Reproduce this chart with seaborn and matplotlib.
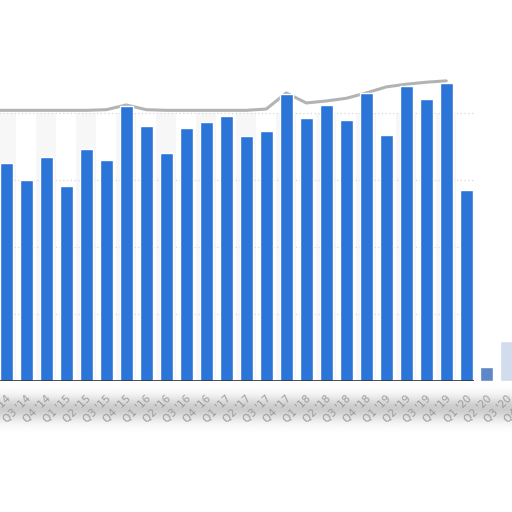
import numpy as np
import pandas as pd
import matplotlib
matplotlib.use("Agg")
import matplotlib.pyplot as plt
import matplotlib.transforms as mtransforms
import seaborn as sns

quarters = ["Q2 '14", "Q3 '14", "Q4 '14",
            "Q1 '15", "Q2 '15", "Q3 '15", "Q4 '15",
            "Q1 '16", "Q2 '16", "Q3 '16", "Q4 '16",
            "Q1 '17", "Q2 '17", "Q3 '17", "Q4 '17",
            "Q1 '18", "Q2 '18", "Q3 '18", "Q4 '18",
            "Q1 '19", "Q2 '19", "Q3 '19", "Q4 '19",
            "Q1 '20", "Q2 '20", "Q3 '20", "Q4 '20"]
values = [325, 300, 334, 291, 346, 330, 410,
          381, 340, 378, 387,
          396, 366, 373, 428,
          393, 412, 390, 430,
          367, 440, 421, 445,
          285, 21, 60, 60]
bar_colors = ["#2b75d8"] * 24 + ["#5d87c6", "#d3dcec", "#d3dcec"]

envelope_pos = list(range(-1, 23))
envelope = [404, 404, 404, 404, 404, 404, 405, 412, 405, 404, 404, 404, 404, 404,
            406, 430, 415, 418, 422, 430, 439, 443, 446, 448]
grid_levels = [100, 200, 300, 400]

sns.set_theme(style="white")
plt.rcParams["font.family"] = ["DejaVu Sans"]

fig = plt.figure(figsize=(5.12, 5.12), dpi=100)
fig.patch.set_facecolor("white")

# soft grey shadow band under the axis
band = fig.add_axes([0, (512 - 434) / 512, 1, (434 - 383) / 512], zorder=0)
yy = np.linspace(0, 1, 60)[:, None]
prof = 1 - 0.2 * np.exp(-((yy - 0.5) / 0.24) ** 2)
band.imshow(np.repeat(prof, 10, axis=1), cmap="gray", vmin=0, vmax=1,
            aspect="auto", extent=[0, 1, 0, 1])
band.axis("off")

ax = fig.add_axes([0, 131 / 512, 1, 381 / 512], zorder=2)
ax.patch.set_alpha(0)

# faint alternating column shading
for i in range(0, 24, 2):
    ax.axvspan(i - 0.5, i + 0.5, ymin=0, ymax=400 / 568.7, color="#f7f7f7", zorder=0, lw=0)

for g in grid_levels:
    ax.hlines(g, -0.5, 23.4, colors="#d9d9d9", linestyles=(0, (1, 2)), lw=0.9, zorder=1)

df = pd.DataFrame({"quarter": quarters, "value": values})
sns.barplot(data=df, x="quarter", y="value", hue="quarter", palette=bar_colors,
            width=0.635, legend=False, saturation=1, ax=ax, zorder=3)

ax.plot(envelope_pos, envelope, color="#b3b3b3", lw=2.2, zorder=2,
        solid_capstyle="round")
ax.hlines(0, -0.5, 23.4, colors="#333333", lw=1.2, zorder=4)

ax.set_xlabel("")
ax.set_ylabel("")
ax.set_yticks([])
for s in ax.spines.values():
    s.set_visible(False)
ax.set_xticks(range(len(quarters)))
ax.set_xticklabels(quarters, rotation=45, ha="right", rotation_mode="anchor",
                   fontsize=7.5, color="#9a9a9a")
ax.tick_params(axis="x", length=0, pad=9)
ax.set_xlim(-0.315, 25.285)
ax.set_ylim(0, 568.7)

# the last label's tick lies just past the right edge; draw it so its start shows
trans = mtransforms.offset_copy(ax.get_xaxis_transform(), fig=fig, x=0, y=-9, units="points")
ax.text(len(quarters) - 1, 0, quarters[-1], transform=trans, rotation=45,
        ha="right", va="top", rotation_mode="anchor", fontsize=7.5,
        color="#9a9a9a", clip_on=False)

fig.savefig("out.png", dpi=100)
